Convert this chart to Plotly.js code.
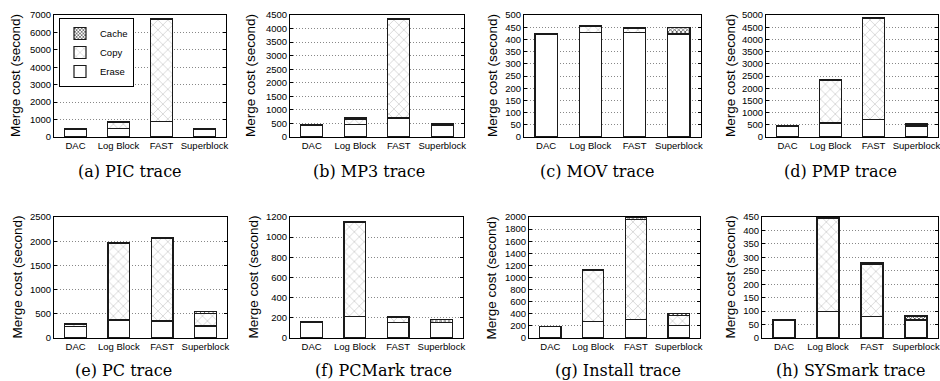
<!DOCTYPE html>
<html>
<head>
<meta charset="utf-8">
<script src="https://cdn.plot.ly/plotly-3.0.1.min.js"></script>
<style>html,body{margin:0;padding:0;background:#fff;}#chart{width:940px;height:381px;}</style>
</head>
<body>
<div id="chart"></div>
<script>
// Categories (x axis of every panel)
const categories = ["DAC", "Log Block", "FAST", "Superblock"];

// Series names
const seriesNames = ["Erase", "Copy", "Cache"];

// Panel captions
const captions = ["(a) PIC trace", "(b) MP3 trace", "(c) MOV trace", "(d) PMP trace",
                  "(e) PC trace", "(f) PCMark trace", "(g) Install trace", "(h) SYSmark trace"];

// Merge cost (seconds), per trace: Erase, Copy, Cache
const picErase = [440, 480, 870, 440];
const picCopy  = [0, 370, 5900, 20];
const picCache = [20, 20, 30, 30];

const mp3Erase = [430, 450, 700, 440];
const mp3Copy  = [0, 200, 3650, 0];
const mp3Cache = [10, 50, 30, 40];

const movErase = [422, 428, 427, 422];
const movCopy  = [0, 25, 20, 3];
const movCache = [3, 2, 3, 25];

const pmpErase = [430, 570, 730, 440];
const pmpCopy  = [0, 1760, 4150, 50];
const pmpCache = [30, 10, 10, 70];

const pcErase = [230, 370, 350, 250];
const pcCopy  = [50, 1580, 1710, 250];
const pcCache = [20, 20, 15, 50];

const pcmErase = [150, 215, 155, 150];
const pcmCopy  = [0, 930, 50, 5];
const pcmCache = [10, 10, 10, 25];

const instErase = [185, 270, 310, 205];
const instCopy  = [0, 850, 1650, 170];
const instCache = [10, 15, 30, 30];

const sysErase = [65, 100, 80, 65];
const sysCopy  = [0, 343, 195, 5];
const sysCache = [2, 5, 5, 12];

// Y axis ranges and tick steps per panel
const yMax  = [7000, 4500, 500, 5000, 2500, 1200, 2000, 450];
const yStep = [1000, 500, 50, 500, 500, 200, 200, 50];

const panels = [
  [picErase, picCopy, picCache],
  [mp3Erase, mp3Copy, mp3Cache],
  [movErase, movCopy, movCache],
  [pmpErase, pmpCopy, pmpCache],
  [pcErase, pcCopy, pcCache],
  [pcmErase, pcmCopy, pcmCache],
  [instErase, instCopy, instCache],
  [sysErase, sysCopy, sysCache]
];

// ---- layout geometry (pixels) ----
const W = 940, H = 381;
const xPix = [[54,226],[290,464],[524,701],[766,938],[54,227],[290,463],[529,700],[762,938]];
const yPix = [[15,137],[15,137],[15,137],[15,137],[217,338],[217,338],[217,338],[217,338]];
const yTitleX = [16, 251, 493, 731, 17, 253, 491, 730];
const capX = [130, 369, 597, 840, 123, 383, 618, 851];
const capY = [172, 172, 172, 172, 370, 370, 370, 370];

const styles = [
  {color: "#ffffff", pattern: {shape: ""}},
  {color: "#ffffff", pattern: {shape: "x", fgcolor: "#a8a8a8", bgcolor: "#ffffff", size: 7, solidity: 0.12}},
  {color: "#ffffff", pattern: {shape: "x", fgcolor: "#444444", bgcolor: "#ffffff", size: 3, solidity: 0.45}}
];

const traces = [];
const layout = {
  width: W, height: H,
  margin: {l: 0, r: 0, t: 0, b: 0},
  paper_bgcolor: "#ffffff",
  plot_bgcolor: "#ffffff",
  barmode: "stack",
  bargap: 0.5,
  showlegend: true,
  font: {family: "Liberation Sans, Arial, sans-serif", size: 9.5, color: "#000"},
  legend: {
    x: 59 / W, y: 1 - 18 / H, xanchor: "left", yanchor: "top",
    bgcolor: "#ffffff", bordercolor: "#000", borderwidth: 1,
    font: {size: 9.5}, traceorder: "reversed", itemwidth: 30
  },
  annotations: []
};

panels.forEach((series, p) => {
  const sfx = p === 0 ? "" : String(p + 1);
  series.forEach((vals, s) => {
    traces.push({
      type: "bar",
      x: categories,
      y: vals,
      name: seriesNames[s],
      legendgroup: seriesNames[s],
      showlegend: p === 0,
      xaxis: "x" + sfx,
      yaxis: "y" + sfx,
      marker: {
        color: styles[s].color,
        pattern: styles[s].pattern,
        line: {color: "#1a1a1a", width: 1.2}
      },
      hoverinfo: "x+y+name"
    });
  });
  const xd = [xPix[p][0] / W, xPix[p][1] / W];
  const yd = [1 - yPix[p][1] / H, 1 - yPix[p][0] / H];
  layout["xaxis" + sfx] = {
    domain: xd, anchor: "y" + sfx,
    type: "category", range: [-0.5, 3.5],
    showline: true, mirror: true, linecolor: "#000", linewidth: 1,
    showgrid: false, ticks: "", zeroline: false,
    tickfont: {size: 9.5}, automargin: false, fixedrange: true
  };
  layout["yaxis" + sfx] = {
    domain: yd, anchor: "x" + sfx,
    range: [0, yMax[p]], dtick: yStep[p], tick0: 0,
    showline: true, mirror: "ticks", linecolor: "#000", linewidth: 1,
    ticks: "inside", ticklen: 3, tickcolor: "#000",
    showgrid: true, gridcolor: "#888", griddash: "1px,2px", gridwidth: 1,
    zeroline: false, tickfont: {size: 9.5}, automargin: false, fixedrange: true
  };
  layout.annotations.push({
    text: "Merge cost (second)", xref: "paper", yref: "paper",
    x: yTitleX[p] / W, y: 1 - (yPix[p][0] + yPix[p][1]) / 2 / H,
    xanchor: "center", yanchor: "middle", textangle: -90, showarrow: false,
    font: {size: 13.5, family: "Liberation Sans, Arial, sans-serif"}
  });
  layout.annotations.push({
    text: captions[p], xref: "paper", yref: "paper",
    x: capX[p] / W, y: 1 - capY[p] / H,
    xanchor: "center", yanchor: "middle", showarrow: false,
    font: {size: 16, family: "DejaVu Serif, Liberation Serif, serif"}
  });
});

Plotly.newPlot("chart", traces, layout, {displayModeBar: false, staticPlot: true});
</script>
</body>
</html>
